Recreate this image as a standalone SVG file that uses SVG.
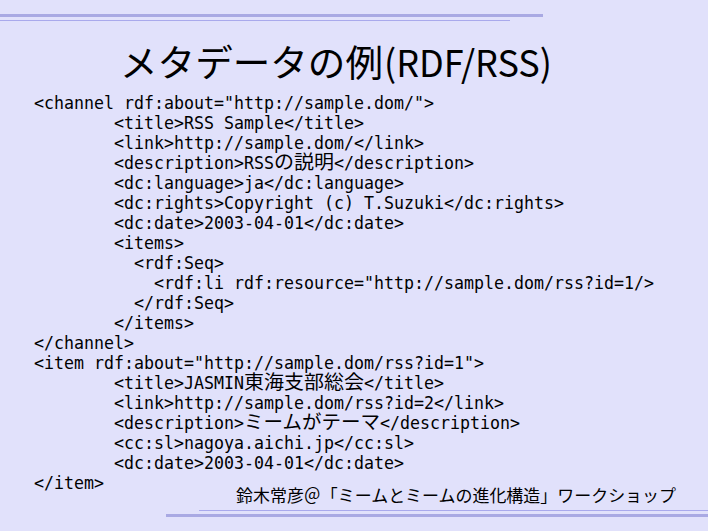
<svg xmlns="http://www.w3.org/2000/svg" width="708" height="531" viewBox="0 0 708 531">
<style>
.bg{fill:#e1e1fb}
.thick{fill:#a9a9e3}
.thin{fill:#a9a9ec}
.c{font-family:"DejaVu Sans Mono","Liberation Mono",monospace;font-size:17.6px;fill:#000}
.j{font-family:"Noto Sans CJK JP",sans-serif;font-size:19px;fill:#000}
.t{font-family:"Noto Sans CJK JP",sans-serif;font-size:37px;fill:#000}
.f{font-family:"Noto Sans CJK JP",sans-serif;font-size:16.5px;fill:#000}
</style>
<rect class="bg" x="0" y="0" width="708" height="531"/>
<g id="rules">
<rect class="thick" x="0" y="14" width="543" height="3"/>
<rect class="thin" x="0" y="20" width="510" height="1"/>
<rect class="thin" x="199" y="510" width="509" height="1"/>
<rect class="thick" x="166" y="514" width="542" height="3"/>
</g>
<g id="title">
<text class="t" x="120" y="77" textLength="263" lengthAdjust="spacingAndGlyphs">メタデータの例</text>
<text class="t" x="384" y="77" textLength="168" lengthAdjust="spacingAndGlyphs">(RDF/RSS)</text>
</g>
<g id="code">
<text class="c" x="34" y="109" textLength="400" lengthAdjust="spacingAndGlyphs">&lt;channel rdf:about="http://sample.dom/"&gt;</text>
<text class="c" x="114" y="129" textLength="250" lengthAdjust="spacingAndGlyphs">&lt;title&gt;RSS Sample&lt;/title&gt;</text>
<text class="c" x="114" y="149" textLength="310" lengthAdjust="spacingAndGlyphs">&lt;link&gt;http://sample.dom/&lt;/link&gt;</text>
<text class="c" x="114" y="169" textLength="160" lengthAdjust="spacingAndGlyphs">&lt;description&gt;RSS</text>
<text class="j" x="274" y="169" textLength="60" lengthAdjust="spacingAndGlyphs">の説明</text>
<text class="c" x="334" y="169" textLength="140" lengthAdjust="spacingAndGlyphs">&lt;/description&gt;</text>
<text class="c" x="114" y="189" textLength="290" lengthAdjust="spacingAndGlyphs">&lt;dc:language&gt;ja&lt;/dc:language&gt;</text>
<text class="c" x="114" y="209" textLength="450" lengthAdjust="spacingAndGlyphs">&lt;dc:rights&gt;Copyright (c) T.Suzuki&lt;/dc:rights&gt;</text>
<text class="c" x="114" y="229" textLength="290" lengthAdjust="spacingAndGlyphs">&lt;dc:date&gt;2003-04-01&lt;/dc:date&gt;</text>
<text class="c" x="114" y="249" textLength="70" lengthAdjust="spacingAndGlyphs">&lt;items&gt;</text>
<text class="c" x="134" y="269" textLength="90" lengthAdjust="spacingAndGlyphs">&lt;rdf:Seq&gt;</text>
<text class="c" x="154" y="289" textLength="500" lengthAdjust="spacingAndGlyphs">&lt;rdf:li rdf:resource="http://sample.dom/rss?id=1/&gt;</text>
<text class="c" x="134" y="309" textLength="100" lengthAdjust="spacingAndGlyphs">&lt;/rdf:Seq&gt;</text>
<text class="c" x="114" y="329" textLength="80" lengthAdjust="spacingAndGlyphs">&lt;/items&gt;</text>
<text class="c" x="34" y="349" textLength="100" lengthAdjust="spacingAndGlyphs">&lt;/channel&gt;</text>
<text class="c" x="34" y="369" textLength="450" lengthAdjust="spacingAndGlyphs">&lt;item rdf:about="http://sample.dom/rss?id=1"&gt;</text>
<text class="c" x="114" y="389" textLength="130" lengthAdjust="spacingAndGlyphs">&lt;title&gt;JASMIN</text>
<text class="j" x="244" y="389" textLength="120" lengthAdjust="spacingAndGlyphs">東海支部総会</text>
<text class="c" x="364" y="389" textLength="80" lengthAdjust="spacingAndGlyphs">&lt;/title&gt;</text>
<text class="c" x="114" y="409" textLength="390" lengthAdjust="spacingAndGlyphs">&lt;link&gt;http://sample.dom/rss?id=2&lt;/link&gt;</text>
<text class="c" x="114" y="429" textLength="130" lengthAdjust="spacingAndGlyphs">&lt;description&gt;</text>
<text class="j" x="244" y="429" textLength="136" lengthAdjust="spacingAndGlyphs">ミームがテーマ</text>
<text class="c" x="380" y="429" textLength="140" lengthAdjust="spacingAndGlyphs">&lt;/description&gt;</text>
<text class="c" x="114" y="449" textLength="300" lengthAdjust="spacingAndGlyphs">&lt;cc:sl&gt;nagoya.aichi.jp&lt;/cc:sl&gt;</text>
<text class="c" x="114" y="469" textLength="290" lengthAdjust="spacingAndGlyphs">&lt;dc:date&gt;2003-04-01&lt;/dc:date&gt;</text>
<text class="c" x="34" y="489" textLength="70" lengthAdjust="spacingAndGlyphs">&lt;/item&gt;</text>
</g>
<g id="footer">
<text class="f" x="236" y="502" textLength="440" lengthAdjust="spacingAndGlyphs">鈴木常彦＠「ミームとミームの進化構造」ワークショップ</text>
</g>
</svg>
